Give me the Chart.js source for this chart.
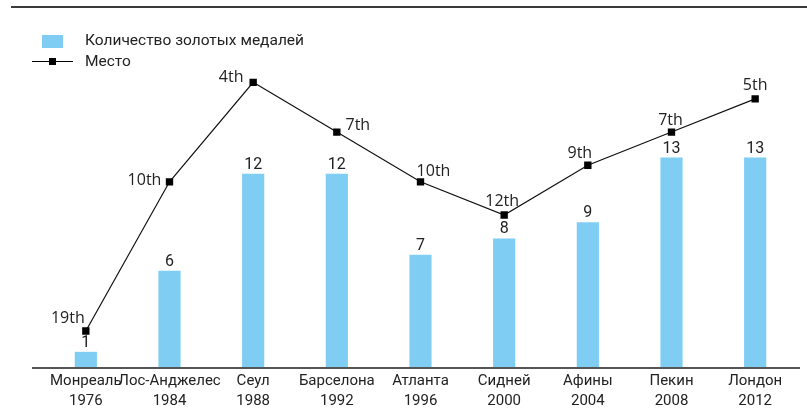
<!DOCTYPE html>
<html lang="ru">
<head>
    <meta charset="UTF-8">
    <title>Золотые медали и место</title>
    <script src="https://cdn.jsdelivr.net/npm/chart.js"></script>
    <style>
        body { margin: 0; background: #fff; font-family: Roboto, sans-serif; }
        #wrap { position: relative; width: 807px; height: 414px; }
        #topRule { position: absolute; left: 11px; right: 0; top: 6px; border-top: 2px solid #3a3a3a; }
        .legend { position: absolute; left: 0; top: 0; color: #222; font-size: 15.5px; }
        .swatch { position: absolute; left: 42px; top: 35px; width: 21px; height: 13px; background: #7fcdf3; }
        .lineSample { position: absolute; left: 32px; top: 61px; width: 41px; border-top: 1px solid #000; }
        .lineSample span { position: absolute; left: 17px; top: -4px; width: 7px; height: 7px; background: #000; }
        .lbl { position: absolute; left: 85px; white-space: nowrap; line-height: 20px; }
    </style>
</head>
<body>
<div id="wrap">
    <div id="topRule"></div>
    <canvas id="chart"></canvas>
    <div class="legend">
        <div class="swatch"></div>
        <div class="lbl" style="top:30px">Количество золотых медалей</div>
        <div class="lineSample"><span></span></div>
        <div class="lbl" style="top:51px">Место</div>
    </div>
</div>
<script>
    const cities = ['Монреаль', 'Лос-Анджелес', 'Сеул', 'Барселона', 'Атланта', 'Сидней', 'Афины', 'Пекин', 'Лондон'];
    const years = ['1976', '1984', '1988', '1992', '1996', '2000', '2004', '2008', '2012'];
    const goldMedals = [1, 6, 12, 12, 7, 8, 9, 13, 13];
    const places = [19, 10, 4, 7, 10, 12, 9, 7, 5];
    const placeLabels = ['19th', '10th', '4th', '7th', '10th', '12th', '9th', '7th', '5th'];

    // where each place label sits relative to its marker
    const placeOffsets = [[-18, -13], [-25, -1], [-22, -5], [21, -7], [13, -10], [-2, -14], [-8, -12], [-1, -12], [0, -13]];

    const textFont = 'Roboto, sans-serif';

    const labelsPlugin = {
        id: 'labels',
        afterDatasetsDraw(chart) {
            const ctx = chart.ctx;
            ctx.save();
            ctx.fillStyle = '#222';
            ctx.textAlign = 'center';
            ctx.textBaseline = 'middle';

            ctx.font = '16px ' + textFont;
            chart.getDatasetMeta(0).data.forEach((bar, i) => {
                ctx.fillText(String(goldMedals[i]), bar.x, bar.y - 9);
            });

            ctx.font = '16px "Open Sans", sans-serif';
            chart.getDatasetMeta(1).data.forEach((pt, i) => {
                ctx.fillText(placeLabels[i], pt.x + placeOffsets[i][0], pt.y + placeOffsets[i][1]);
            });

            // baseline running a bit wider than the plot
            const a = chart.chartArea;
            ctx.strokeStyle = '#555';
            ctx.lineWidth = 2;
            ctx.beginPath();
            ctx.moveTo(32, a.bottom);
            ctx.lineTo(800, a.bottom);
            ctx.stroke();
            ctx.restore();
        }
    };

    new Chart(document.getElementById('chart'), {
        data: {
            labels: cities.map((c, i) => [c, years[i]]),
            datasets: [
                {
                    type: 'bar',
                    label: 'Количество золотых медалей',
                    data: goldMedals,
                    backgroundColor: '#7fcdf3',
                    categoryPercentage: 1,
                    barPercentage: 0.265,
                    yAxisID: 'y',
                    order: 2
                },
                {
                    type: 'line',
                    label: 'Место',
                    data: places,
                    borderColor: '#111',
                    borderWidth: 1.2,
                    pointStyle: 'rect',
                    pointRadius: 5.2,
                    pointBackgroundColor: '#000',
                    pointBorderWidth: 0,
                    tension: 0,
                    yAxisID: 'y2',
                    order: 1
                }
            ]
        },
        options: {
            responsive: true,
            maintainAspectRatio: false,
            animation: false,
            layout: { padding: { top: 16, left: 44, right: 10, bottom: 0 } },
            plugins: { legend: { display: false }, tooltip: { enabled: false } },
            scales: {
                x: {
                    grid: { display: false, drawTicks: false },
                    border: { display: false },
                    ticks: {
                        padding: 3,
                        color: '#222',
                        maxRotation: 0,
                        autoSkip: false,
                        font: { family: textFont, size: 15, lineHeight: '20px' }
                    }
                },
                y: { display: false, min: 0, max: 21.74 },
                y2: { display: false, reverse: true, min: 0, max: 21.23 }
            }
        },
        plugins: [labelsPlugin]
    });
</script>
</body>
</html>
